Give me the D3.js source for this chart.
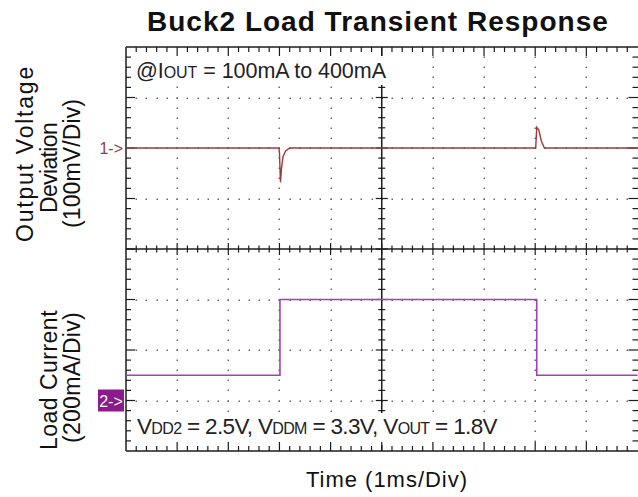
<!DOCTYPE html>
<html><head><meta charset="utf-8">
<script src="https://cdn.jsdelivr.net/npm/d3@7"></script>
<style>body{margin:0;background:#fff} svg{display:block}</style>
</head><body>
<script>
// ---- data ----
// Channel 1: output voltage deviation (mV) vs time (ms)
const vTime = [0, 2.99, 3.00, 3.02, 3.04, 3.07, 3.12, 3.2, 8.01, 8.03, 8.07, 8.12, 8.18, 10];
const vDev  = [0, 0,   -10,  -68,  -40,  -17,  -6,   0,   0,    41,   36,   14,   0,    0];
// Channel 2: load current (mA) vs time (ms)
const iTime = [0, 3.01, 3.01, 8.03, 8.03, 10];
const iLoad = [100, 100, 400, 400, 100, 100];
// Scope settings
const timeDivs = 10, vertDivs = 8;
const mVperDiv = 100, mAperDiv = 200;
const ch1RefDiv = 2, ch2RefDiv = 7;   // reference markers, divisions from top
const titleText = "Buck2 Load Transient Response";
const xLabel = "Time (1ms/Div)";
const y1Lines = ["Output Voltage", "Deviation", "(100mV/Div)"];
const y2Lines = ["Load Current", "(200mA/Div)"];

// ---- layout ----
const W = 638, H = 497;
const L = 126, R = 637.5, T = 47, B = 451;
const FONT = "'Liberation Sans', Arial, Helvetica, sans-serif";
const ink = "#1c1c1c", dotC = "#6a6a6a";
const c1 = "#983c3c", c2 = "#a63fb3", c2box = "#8c1a8c";

const svg = d3.select("body").append("svg").attr("width", W).attr("height", H)
  .style("font-family", FONT);

const x = d3.scaleLinear().domain([0, timeDivs]).range([L, R]);
const gy = d3.scaleLinear().domain([0, vertDivs]).range([T, B]);
const yV = d3.scaleLinear().domain([ch1RefDiv * mVperDiv, -(vertDivs - ch1RefDiv) * mVperDiv]).range([T, B]);
const yI = d3.scaleLinear().domain([ch2RefDiv * mAperDiv, -(vertDivs - ch2RefDiv) * mAperDiv]).range([T, B]);

const g = svg.append("g");
// dotted gridlines
const minorX = d3.range(0, timeDivs * 5 + 1).map(d => d / 5);
const minorY = d3.range(0, vertDivs * 5 + 1).map(d => d / 5);
const dots = [];
for (let i = 1; i < timeDivs; i++) { if (i === timeDivs / 2) continue;
  minorY.forEach(v => { if (v > 0 && v < vertDivs) dots.push([x(i), gy(v)]); }); }
for (let k = 1; k < vertDivs; k++) { if (k === vertDivs / 2) continue;
  minorX.forEach(v => { if (v > 0 && v < timeDivs) dots.push([x(v), gy(k)]); }); }
g.selectAll("rect.dot").data(dots).join("rect").attr("class", "dot")
  .attr("x", d => Math.round(d[0]) - 0.5).attr("y", d => Math.round(d[1]) - 0.5)
  .attr("width", 1.5).attr("height", 1.5).attr("fill", dotC);

// center axes
const isMajor = v => Math.abs(v - Math.round(v)) < 1e-6;
const cx = x(timeDivs / 2), cy = gy(vertDivs / 2);
g.append("line").attr("x1", L).attr("x2", R).attr("y1", cy).attr("y2", cy).attr("stroke", ink).attr("stroke-width", 1.5);
g.append("line").attr("x1", cx).attr("x2", cx).attr("y1", T).attr("y2", B).attr("stroke", ink).attr("stroke-width", 1.5);
const cTicks = [];
minorX.forEach(v => { if (v <= 0 || v >= timeDivs) return;
  const m = isMajor(v); cTicks.push([x(v), cy - (m ? 6 : 3.5), x(v), cy + (m ? 6 : 3.5)]); });
minorY.forEach(v => { if (v <= 0 || v >= vertDivs) return;
  const m = isMajor(v); cTicks.push([cx - (m ? 6 : 3.5), gy(v), cx + (m ? 6 : 3.5), gy(v)]); });
g.selectAll("line.ctk").data(cTicks).join("line").attr("class", "ctk")
  .attr("x1", d => d[0]).attr("y1", d => d[1]).attr("x2", d => d[2]).attr("y2", d => d[3])
  .attr("stroke", ink).attr("stroke-width", 1.2);

// white backgrounds behind the in-plot annotations
g.append("rect").attr("x", 132).attr("y", 56).attr("width", 258).attr("height", 29).attr("fill", "#fff");
g.append("rect").attr("x", 127).attr("y", 413).attr("width", 372).attr("height", 32).attr("fill", "#fff");

// border lines + ticks
g.append("line").attr("x1", L).attr("x2", R + 1).attr("y1", T).attr("y2", T).attr("stroke", ink).attr("stroke-width", 1.5);
g.append("line").attr("x1", L).attr("x2", R + 1).attr("y1", B).attr("y2", B).attr("stroke", ink).attr("stroke-width", 1.5);
g.append("line").attr("x1", L).attr("x2", L).attr("y1", T).attr("y2", B).attr("stroke", ink).attr("stroke-width", 1.5);
const ticks = [];
minorX.forEach(v => { if (v <= 0 || v >= timeDivs) return;
  const m = isMajor(v);
  ticks.push([x(v), T, x(v), T + (m ? 9 : 5)]);
  ticks.push([x(v), B, x(v), B - (m ? 9 : 5)]);
});
minorY.forEach(v => { if (v <= 0 || v >= vertDivs) return;
  const m = isMajor(v);
  ticks.push([L, gy(v), L + (m ? 9 : 5), gy(v)]);
  ticks.push([R + 1, gy(v), R - (m ? 9 : 5), gy(v)]);
});
g.selectAll("line.tk").data(ticks).join("line").attr("class", "tk")
  .attr("x1", d => d[0]).attr("y1", d => d[1]).attr("x2", d => d[2]).attr("y2", d => d[3])
  .attr("stroke", ink).attr("stroke-width", 1.2);

// traces
const v = vTime.map((t, i) => [t, vDev[i]]);
const cur = iTime.map((t, i) => [t, iLoad[i]]);
svg.append("path").datum(cur).attr("fill", "none").attr("stroke", c2).attr("stroke-width", 1.6)
  .attr("d", d3.line().x(d => x(d[0])).y(d => yI(d[1])));
svg.append("path").datum(v).attr("fill", "none").attr("stroke", c1).attr("stroke-width", 1.4)
  .attr("d", d3.line().x(d => x(d[0])).y(d => yV(d[1])));

// reference markers
svg.append("text").attr("x", 123).attr("y", yV(0) + 5.5).attr("text-anchor", "end")
  .attr("font-size", 16).attr("fill", c1).text("1->");
const y2r = yI(0);
svg.append("rect").attr("x", 98).attr("y", y2r - 11).attr("width", 26).attr("height", 22).attr("fill", c2box);
svg.append("text").attr("x", 111).attr("y", y2r + 6).attr("text-anchor", "middle")
  .attr("font-size", 16).attr("fill", "#fff").text("2->");

// fitting helper: spread letters to reach a target width
function fit(sel, target) {
  const n = sel.text().length;
  const w = sel.node().getComputedTextLength();
  sel.attr("letter-spacing", ((target - w) / n).toFixed(2));
}

// title
const tt = svg.append("text").attr("x", 147).attr("y", 31).attr("font-size", 28)
  .attr("font-weight", "bold").attr("fill", "#111").text(titleText);
fit(tt, 462);

// x label
const xl = svg.append("text").attr("x", 306).attr("y", 487).attr("font-size", 22)
  .attr("fill", "#111").text(xLabel);
fit(xl, 162);

// y labels (rotated)
const yl1 = [[33, 65, 242], [57, 123, 213], [80, 99, 228]];
y1Lines.forEach((s, i) => {
  const [bx, y0, y1] = yl1[i];
  const t = svg.append("text").attr("transform", `translate(${bx},${y1}) rotate(-90)`)
    .attr("font-size", 23).attr("fill", "#111").text(s);
  fit(t, y1 - y0);
});
const yl2 = [[57, 310, 450], [80, 312, 443]];
y2Lines.forEach((s, i) => {
  const [bx, y0, y1] = yl2[i];
  const t = svg.append("text").attr("transform", `translate(${bx},${y1}) rotate(-90)`)
    .attr("font-size", 23).attr("fill", "#111").text(s);
  fit(t, y1 - y0);
});

// annotations inside the plot
const a1 = svg.append("text").attr("x", 136).attr("y", 78).attr("font-size", 21.5).attr("fill", "#222");
a1.append("tspan").text("@I");
a1.append("tspan").attr("font-size", 16).text("OUT");
a1.append("tspan").text(" = 100mA to 400mA");
fit(a1, 250);

const a2 = svg.append("text").attr("x", 137).attr("y", 434).attr("font-size", 22.5).attr("fill", "#222");
a2.append("tspan").text("V");
a2.append("tspan").attr("font-size", 16).text("DD2");
a2.append("tspan").text(" = 2.5V, V");
a2.append("tspan").attr("font-size", 16).text("DDM");
a2.append("tspan").text(" = 3.3V, V");
a2.append("tspan").attr("font-size", 16).text("OUT");
a2.append("tspan").text(" = 1.8V");
fit(a2, 360);
</script>
</body></html>
